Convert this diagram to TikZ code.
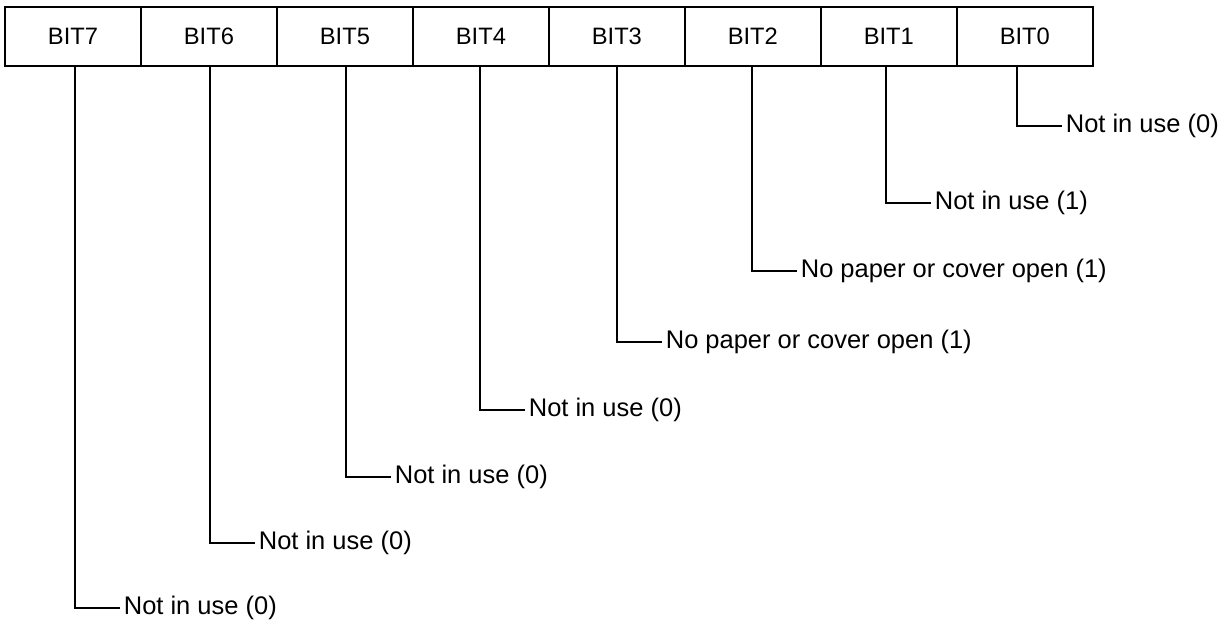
\documentclass[tikz,border=0pt]{standalone}
\usepackage{fontspec}
\setmainfont{Liberation Sans}
\usetikzlibrary{positioning}

\begin{document}
\begin{tikzpicture}[x=0.02cm,y=-0.02cm,
    bitbox/.style={draw,line width=0.8pt,minimum width=2.72cm,minimum height=1.18cm,
      inner sep=0pt,outer sep=0pt,font=\fontsize{13.5}{16}\selectfont},
    note/.style={anchor=west,inner sep=2pt,font=\fontsize{14.5}{17}\selectfont},
    tie/.style={line width=0.8pt}]
      \useasboundingbox (0,0) rectangle (1230,626);
      \node[bitbox,anchor=north west] (b7) at (5,7) {BIT7};
      \node[bitbox,right=0pt of b7] (b6) {BIT6};
      \node[bitbox,right=0pt of b6] (b5) {BIT5};
      \node[bitbox,right=0pt of b5] (b4) {BIT4};
      \node[bitbox,right=0pt of b4] (b3) {BIT3};
      \node[bitbox,right=0pt of b3] (b2) {BIT2};
      \node[bitbox,right=0pt of b2] (b1) {BIT1};
      \node[bitbox,right=0pt of b1] (b0) {BIT0};
      \coordinate (t7) at (75,66);
      \coordinate (t6) at (210,66);
      \coordinate (t5) at (346,66);
      \coordinate (t4) at (480,66);
      \coordinate (t3) at (617,66);
      \coordinate (t2) at (752,66);
      \coordinate (t1) at (886,66);
      \coordinate (t0) at (1017,66);
      \node[note] (l0) at (1062,126) {Not in use (0)};
      \node[note] (l1) at (931,203) {Not in use (1)};
      \node[note] (l2) at (797,271) {No paper or cover open (1)};
      \node[note] (l3) at (662,342) {No paper or cover open (1)};
      \node[note] (l4) at (525,410) {Not in use (0)};
      \node[note] (l5) at (391,477) {Not in use (0)};
      \node[note] (l6) at (255,543) {Not in use (0)};
      \node[note] (l7) at (120,608) {Not in use (0)};
      \draw[tie] (t0) |- (l0.west);
      \draw[tie] (t1) |- (l1.west);
      \draw[tie] (t2) |- (l2.west);
      \draw[tie] (t3) |- (l3.west);
      \draw[tie] (t4) |- (l4.west);
      \draw[tie] (t5) |- (l5.west);
      \draw[tie] (t6) |- (l6.west);
      \draw[tie] (t7) |- (l7.west);
\end{tikzpicture}
\end{document}
